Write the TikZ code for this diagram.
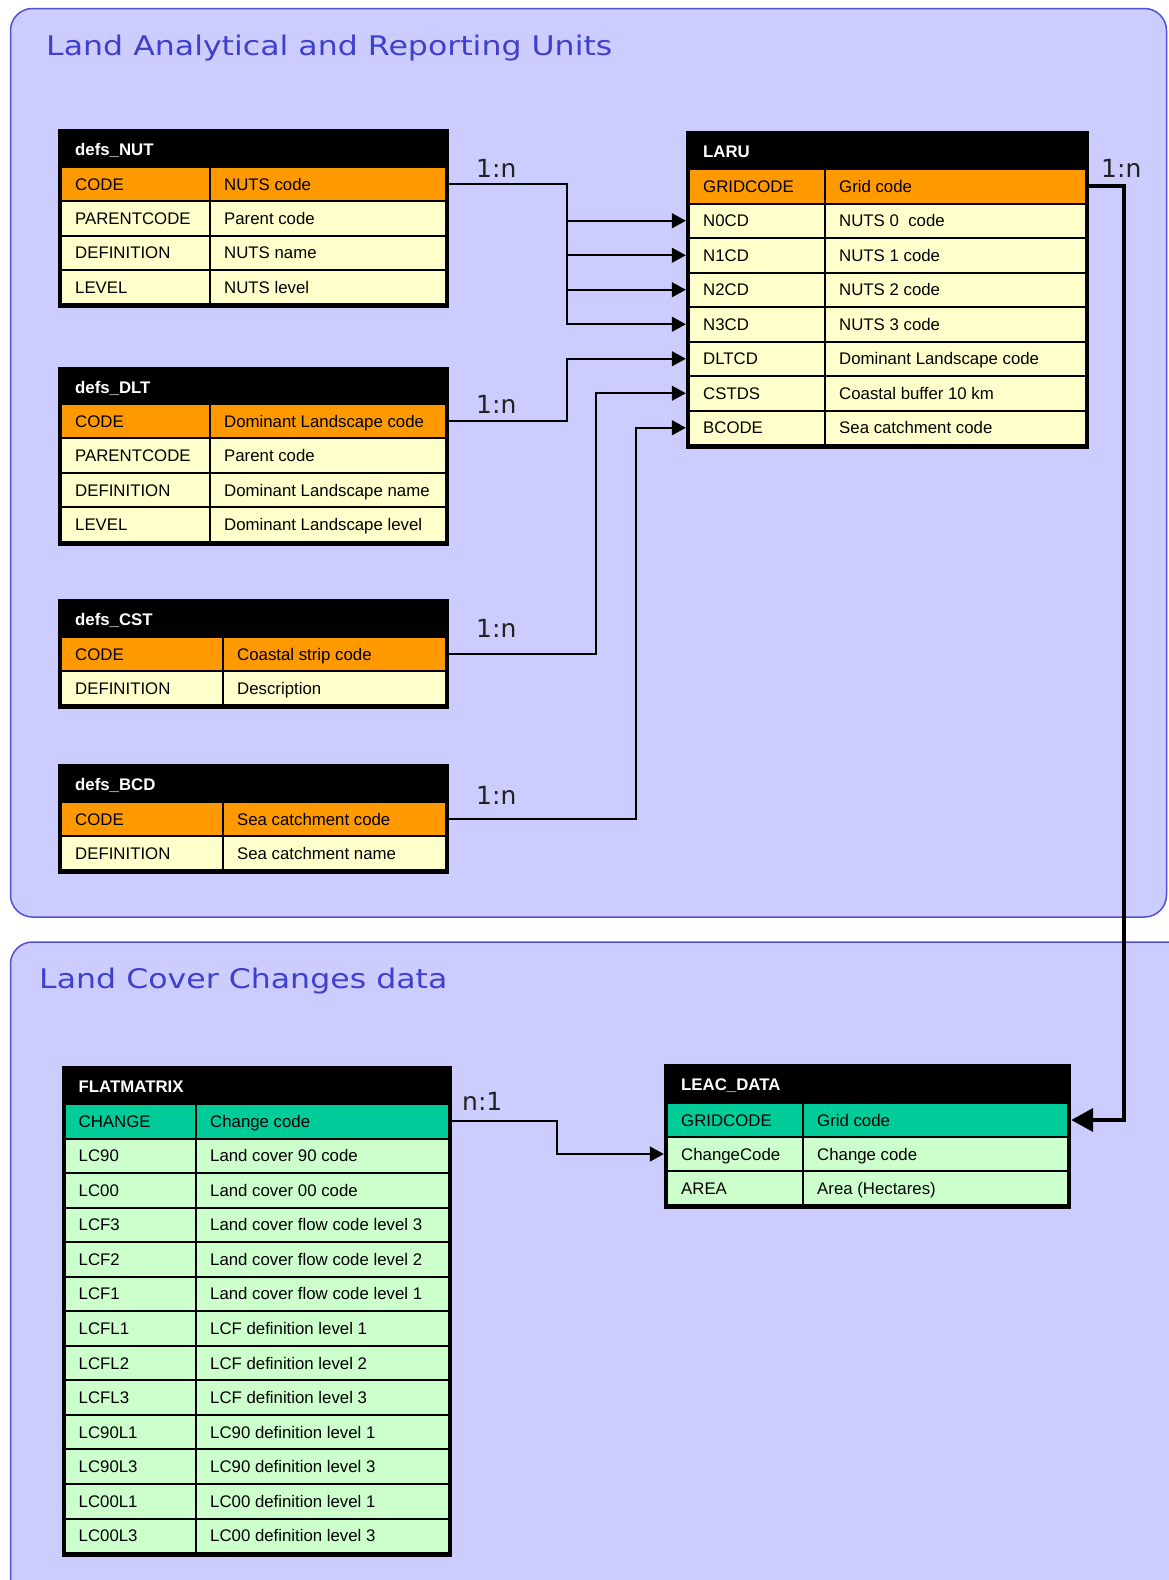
\documentclass[tikz,border=0pt]{standalone}
\usepackage{fontspec}
\setmainfont{Liberation Sans}
\newfontfamily\titlefont[FakeStretch=1.17]{DejaVu Sans}
\newfontfamily\labelfont{DejaVu Sans}
\usetikzlibrary{arrows.meta}
\definecolor{orangecell}{HTML}{FF9900}
\definecolor{creamcell}{HTML}{FFFFCC}
\definecolor{tealcell}{HTML}{00CC99}
\definecolor{greencell}{HTML}{CCFFCC}
\definecolor{panelfill}{HTML}{CCCCFF}
\definecolor{panelline}{HTML}{5050D8}
\definecolor{titleblue}{HTML}{4040CC}
\definecolor{labelgray}{HTML}{222222}
\tikzset{
  panel/.style={fill=panelfill, draw=panelline, line width=1.5pt, rounded corners=22pt},
  paneltitle/.style={anchor=base west, inner sep=0, text=titleblue, font=\titlefont\fontsize{27}{32}\selectfont},
  rowtext/.style={anchor=base west, inner sep=0, font=\fontsize{16.8}{19}\selectfont},
  headtext/.style={anchor=base west, inner sep=0, text=white, font=\bfseries\fontsize{16.8}{19}\selectfont},
  cardlabel/.style={anchor=base west, inner sep=0, text=labelgray, font=\labelfont\fontsize{25}{30}\selectfont},
  rowbox/.style={inner sep=0, draw=none},
  link/.style={draw=black, line width=1.6pt, -{Triangle[length=14pt,width=15pt]}},
  biglink/.style={draw=black, line width=4pt, line join=miter, -{Triangle[length=22pt,width=23pt]}},
}
% table frame: name x1 y1 x2 y2 title
\newcommand{\etable}[6]{%
  \pgfmathsetmacro{\tw}{#4-#2}\pgfmathsetmacro{\th}{#5-#3}%
  \node[rowbox, fill=black, minimum width=\tw pt, minimum height=\th pt, anchor=north west] (#1) at (#2,#3) {};
  \node[headtext] (#1-title) at (#2+17,#3+26) {#6};
}
% row: name x1 x2 div ytop ybot fill t1 t2
\newcommand{\erow}[9]{%
  \fill[#7] (#2+4,#5+1) rectangle (#4-1,#6-1);
  \fill[#7] (#4+1,#5+1) rectangle (#3-4,#6-1);
  \pgfmathsetmacro{\rw}{#3-#2}\pgfmathsetmacro{\rh}{#6-#5}%
  \node[rowbox, minimum width=\rw pt, minimum height=\rh pt] (#1) at ({(#2+#3)/2},{(#5+#6)/2}) {};
  \node[rowtext] (#1-a) at (#2+17,{(#5+#6)/2+6}) {#8};
  \node[rowtext] (#1-b) at (#4+14,{(#5+#6)/2+6}) {#9};
}
\begin{document}
\begin{tikzpicture}[x=1pt,y=-1pt]
\useasboundingbox (0,0) rectangle (1168,1580);
\fill[white] (0,0) rectangle (1168,1580);
% panels
\draw[panel] (10.5,8.5) rectangle (1166.5,917);
\draw[panel] (10.5,942) rectangle (1190,1600);
\node[paneltitle] (t1) at (46,55) {Land Analytical and Reporting Units};
\node[paneltitle] (t2) at (39,988) {Land Cover Changes data};

% defs_NUT
\etable{nut}{58}{129}{449}{308}{defs\_NUT}
\erow{nut-code}{58}{449}{210}{167}{201.3}{orangecell}{CODE}{NUTS code}
\erow{nut-parent}{58}{449}{210}{201.3}{235.6}{creamcell}{PARENTCODE}{Parent code}
\erow{nut-def}{58}{449}{210}{235.6}{269.9}{creamcell}{DEFINITION}{NUTS name}
\erow{nut-level}{58}{449}{210}{269.9}{304.2}{creamcell}{LEVEL}{NUTS level}

% defs_DLT
\etable{dlt}{58}{367}{449}{545.5}{defs\_DLT}
\erow{dlt-code}{58}{449}{210}{404}{438.4}{orangecell}{CODE}{Dominant Landscape code}
\erow{dlt-parent}{58}{449}{210}{438.4}{472.8}{creamcell}{PARENTCODE}{Parent code}
\erow{dlt-def}{58}{449}{210}{472.8}{507.2}{creamcell}{DEFINITION}{Dominant Landscape name}
\erow{dlt-level}{58}{449}{210}{507.2}{541.6}{creamcell}{LEVEL}{Dominant Landscape level}

% defs_CST
\etable{cst}{58}{599}{449}{709}{defs\_CST}
\erow{cst-code}{58}{449}{223}{637}{671.2}{orangecell}{CODE}{Coastal strip code}
\erow{cst-def}{58}{449}{223}{671.2}{705.4}{creamcell}{DEFINITION}{Description}

% defs_BCD
\etable{bcd}{58}{764}{449}{874}{defs\_BCD}
\erow{bcd-code}{58}{449}{223}{802}{836.2}{orangecell}{CODE}{Sea catchment code}
\erow{bcd-def}{58}{449}{223}{836.2}{870.4}{creamcell}{DEFINITION}{Sea catchment name}

% LARU
\etable{laru}{686}{131}{1089}{449}{LARU}
\erow{laru-grid}{686}{1089}{825}{169}{203.5}{orangecell}{GRIDCODE}{Grid code}
\erow{laru-n0}{686}{1089}{825}{203.5}{238}{creamcell}{N0CD}{NUTS 0\ \ code}
\erow{laru-n1}{686}{1089}{825}{238}{272.5}{creamcell}{N1CD}{NUTS 1 code}
\erow{laru-n2}{686}{1089}{825}{272.5}{307}{creamcell}{N2CD}{NUTS 2 code}
\erow{laru-n3}{686}{1089}{825}{307}{341.5}{creamcell}{N3CD}{NUTS 3 code}
\erow{laru-dlt}{686}{1089}{825}{341.5}{376}{creamcell}{DLTCD}{Dominant Landscape code}
\erow{laru-cst}{686}{1089}{825}{376}{410.5}{creamcell}{CSTDS}{Coastal buffer 10 km}
\erow{laru-bcd}{686}{1089}{825}{410.5}{445}{creamcell}{BCODE}{Sea catchment code}

% FLATMATRIX
\etable{flat}{61.5}{1066}{451.5}{1557}{FLATMATRIX}
\erow{flat-change}{61.5}{451.5}{196}{1104}{1138.5}{tealcell}{CHANGE}{Change code}
\erow{flat-lc90}{61.5}{451.5}{196}{1138.5}{1173.1}{greencell}{LC90}{Land cover 90 code}
\erow{flat-lc00}{61.5}{451.5}{196}{1173.1}{1207.6}{greencell}{LC00}{Land cover 00 code}
\erow{flat-lcf3}{61.5}{451.5}{196}{1207.6}{1242.2}{greencell}{LCF3}{Land cover flow code level 3}
\erow{flat-lcf2}{61.5}{451.5}{196}{1242.2}{1276.7}{greencell}{LCF2}{Land cover flow code level 2}
\erow{flat-lcf1}{61.5}{451.5}{196}{1276.7}{1311.2}{greencell}{LCF1}{Land cover flow code level 1}
\erow{flat-lcfl1}{61.5}{451.5}{196}{1311.2}{1345.8}{greencell}{LCFL1}{LCF definition level 1}
\erow{flat-lcfl2}{61.5}{451.5}{196}{1345.8}{1380.3}{greencell}{LCFL2}{LCF definition level 2}
\erow{flat-lcfl3}{61.5}{451.5}{196}{1380.3}{1414.9}{greencell}{LCFL3}{LCF definition level 3}
\erow{flat-lc90l1}{61.5}{451.5}{196}{1414.9}{1449.4}{greencell}{LC90L1}{LC90 definition level 1}
\erow{flat-lc90l3}{61.5}{451.5}{196}{1449.4}{1483.9}{greencell}{LC90L3}{LC90 definition level 3}
\erow{flat-lc00l1}{61.5}{451.5}{196}{1483.9}{1518.5}{greencell}{LC00L1}{LC00 definition level 1}
\erow{flat-lc00l3}{61.5}{451.5}{196}{1518.5}{1553}{greencell}{LC00L3}{LC00 definition level 3}

% LEAC_DATA
\etable{leac}{664}{1064}{1071}{1209}{LEAC\_DATA}
\erow{leac-grid}{664}{1071}{803}{1103}{1137}{tealcell}{GRIDCODE}{Grid code}
\erow{leac-change}{664}{1071}{803}{1137}{1171}{greencell}{ChangeCode}{Change code}
\erow{leac-area}{664}{1071}{803}{1171}{1205}{greencell}{AREA}{Area (Hectares)}

% bus coordinates
\coordinate (busA) at (567,0);
\coordinate (busB) at (596,0);
\coordinate (busC) at (636,0);
\coordinate (busD) at (1124,0);
\coordinate (busE) at (557,0);

% connectors
\draw[link] (nut-code.east) -| (busA |- laru-n0.west) -- (laru-n0.west);
\draw[link] (nut-code.east) -| (busA |- laru-n1.west) -- (laru-n1.west);
\draw[link] (nut-code.east) -| (busA |- laru-n2.west) -- (laru-n2.west);
\draw[link] (nut-code.east) -| (busA |- laru-n3.west) -- (laru-n3.west);
\draw[link] (dlt-code.east) -| (busA |- laru-dlt.west) -- (laru-dlt.west);
\draw[link] (cst-code.east) -| (busB |- laru-cst.west) -- (laru-cst.west);
\draw[link] (bcd-code.east) -| (busC |- laru-bcd.west) -- (laru-bcd.west);
\draw[biglink] (laru-grid.east) -| (busD |- leac-grid.east) -- (leac-grid.east);
\draw[link] (flat-change.east) -| (busE |- leac-change.west) -- (leac-change.west);

% cardinality labels
\node[cardlabel] (c1) at (476,177) {1:n};
\node[cardlabel] (c2) at (476,413) {1:n};
\node[cardlabel] (c3) at (476,637) {1:n};
\node[cardlabel] (c4) at (476,804) {1:n};
\node[cardlabel] (c5) at (1101,177) {1:n};
\node[cardlabel] (c6) at (462,1110) {n:1};
\end{tikzpicture}
\end{document}
